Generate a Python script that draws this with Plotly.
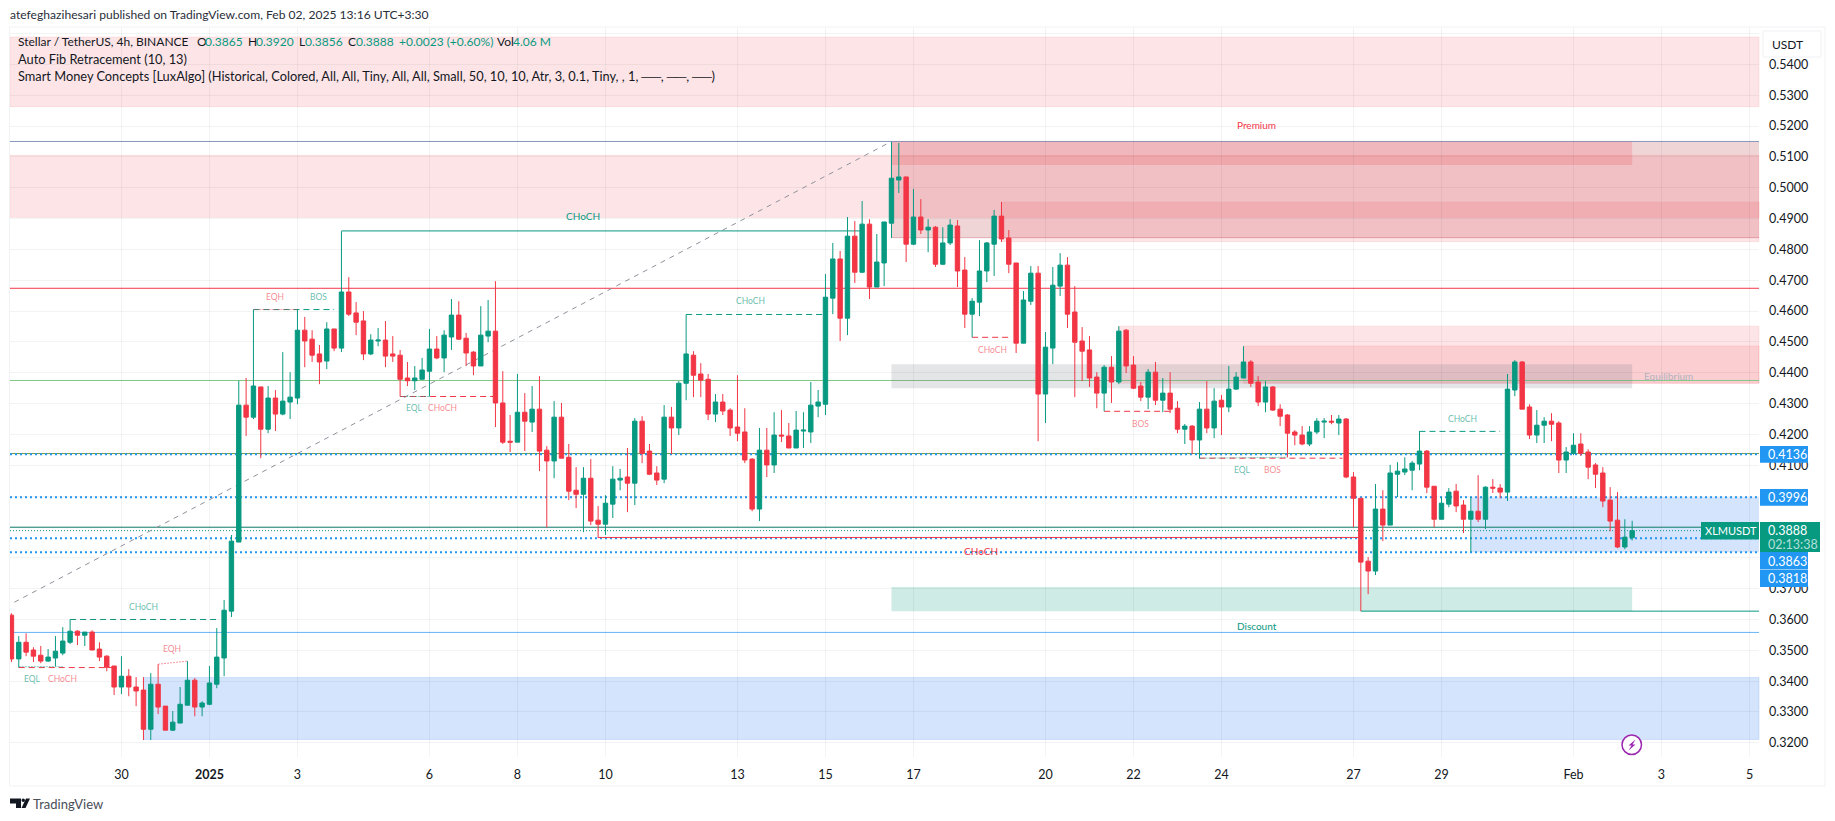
import pandas as pd
import plotly.graph_objects as go

# 4h candles, first bar is Dec 27 12:00
opens = [.3614,.3472,.3526,.3501,.3484,.3465,.3475,.3491,.3526,.3562,.3549,.3559,.3504,.3481,.3449,.3381,.3416,.3381,.3371,.3244,
         .3390,.3319,.3241,.3264,.3322,.3403,.3316,.3325,.3390,.3475,.3627,.3851,.4295,.4256,.4354,.4217,.4318,.4266,.4305,.4318,
         .4538,.4509,.4461,.4438,.4542,.4480,.4662,.4594,.4568,.4461,.4503,.4506,.4461,.4457,.4383,.4374,.4379,.4405,.4477,.4448,
         .4516,.4587,.4512,.4467,.4422,.4519,.4535,.4302,.4178,.4175,.4272,.4240,.4282,.4149,.4114,.4256,.4126,.4019,.4006,.4058,
         .3922,.3909,.3974,.4052,.4062,.4042,.4243,.4146,.4075,.4055,.4256,.4221,.4366,.4457,.4396,.4379,.4266,.4305,.4279,.4224,
         .4208,.4120,.3958,.4149,.4101,.4198,.4195,.4156,.4211,.4208,.4292,.4298,.4642,.4769,.4577,.4843,.4726,.4882,.4678,.4756,
         .4885,.5025,.5035,.4817,.4905,.4863,.4872,.4752,.4821,.4876,.4733,.4590,.4629,.4730,.4817,.4908,.4837,.4756,.4496,.4632,
         .4723,.4331,.4480,.4681,.4749,.4597,.4503,.4474,.4386,.4334,.4418,.4370,.4538,.4425,.4357,.4321,.4402,.4311,.4334,.4285,
         .4217,.4227,.4182,.4282,.4221,.4311,.4289,.4347,.4383,.4435,.4370,.4305,.4354,.4282,.4263,.4208,.4198,.4169,.4208,.4240,
         .4243,.4237,.4250,.4062,.3993,.3789,.3757,.3958,.3906,.4071,.4078,.4084,.4104,.4146,.4032,.3925,.3974,.4016,.3971,.3925,
         .3951,.3925,.4029,.4026,.4013,.4344,.4435,.4289,.4198,.4230,.4243,.4237,.4117,.4139,.4169,.4143,.4101,.4075,.3987,.3922,
         .3835,.3865]
highs = [.3620,.3546,.3555,.3510,.3514,.3504,.3546,.3575,.3600,.3565,.3559,.3565,.3526,.3484,.3449,.3481,.3439,.3413,.3413,.3426,
         .3455,.3319,.3303,.3381,.3465,.3410,.3335,.3449,.3572,.3663,.3874,.4374,.4383,.4605,.4354,.4357,.4344,.4467,.4402,.4605,
         .4581,.4538,.4490,.4564,.4542,.4859,.4710,.4629,.4600,.4525,.4545,.4568,.4519,.4474,.4435,.4422,.4448,.4542,.4519,.4538,
         .4639,.4632,.4529,.4470,.4616,.4636,.4697,.4405,.4263,.4396,.4334,.4357,.4389,.4162,.4308,.4302,.4169,.4094,.4094,.4120,
         .3968,.4003,.4097,.4088,.4156,.4253,.4259,.4169,.4097,.4295,.4289,.4373,.4589,.4470,.4431,.4396,.4331,.4331,.4285,.4392,
         .4285,.4123,.4221,.4221,.4272,.4279,.4237,.4276,.4272,.4370,.4344,.4720,.4821,.4795,.4905,.4892,.4957,.4898,.4850,.4889,
         .5149,.5145,.5035,.4996,.4963,.4898,.4876,.4872,.4898,.4895,.4775,.4642,.4830,.4824,.4928,.4954,.4863,.4756,.4665,.4746,
         .4746,.4532,.4743,.4788,.4775,.4681,.4548,.4519,.4402,.4425,.4454,.4551,.4542,.4454,.4370,.4412,.4435,.4383,.4402,.4308,
         .4234,.4230,.4305,.4373,.4350,.4328,.4422,.4402,.4486,.4441,.4389,.4373,.4357,.4298,.4266,.4214,.4227,.4227,.4253,.4253,
         .4263,.4263,.4253,.4078,.3993,.3802,.4039,.4019,.4101,.4110,.4126,.4114,.4211,.4149,.4032,.3997,.4026,.4039,.3987,.3997,
         .4068,.4032,.4055,.4039,.4396,.4441,.4438,.4298,.4279,.4256,.4269,.4243,.4159,.4204,.4204,.4152,.4107,.4094,.4029,.4013,
         .3925,.3920]
lows = [.3462,.3444,.3481,.3462,.3458,.3462,.3448,.3484,.3520,.3517,.3514,.3501,.3465,.3432,.3355,.3358,.3351,.3319,.3209,.3209,
        .3293,.3241,.3238,.3264,.3322,.3286,.3286,.3322,.3377,.3416,.3608,.3851,.4195,.4250,.4123,.4204,.4211,.4262,.4250,.4298,
        .4418,.4435,.4363,.4412,.4470,.4467,.4584,.4522,.4441,.4457,.4486,.4418,.4435,.4323,.4357,.4344,.4379,.4323,.4444,.4402,
        .4474,.4506,.4422,.4392,.4422,.4499,.4224,.4169,.4143,.4175,.4146,.4208,.4081,.3898,.4058,.4123,.3987,.3961,.3883,.3906,
        .3865,.3874,.3929,.4019,.3948,.3971,.4107,.4068,.4036,.4042,.4136,.4198,.4311,.4321,.4321,.4247,.4240,.4263,.4195,.4178,
        .4107,.3951,.3919,.4062,.4075,.4175,.4156,.4156,.4156,.4172,.4256,.4263,.4590,.4503,.4522,.4691,.4723,.4639,.4678,.4681,
        .4837,.4983,.4759,.4814,.4850,.4791,.4743,.4749,.4814,.4678,.4545,.4515,.4584,.4694,.4714,.4824,.4723,.4464,.4496,.4620,
        .4178,.4237,.4428,.4649,.4545,.4321,.4373,.4354,.4285,.4275,.4302,.4363,.4399,.4347,.4308,.4282,.4295,.4272,.4269,.4204,
        .4169,.4136,.4122,.4204,.4188,.4198,.4272,.4344,.4383,.4354,.4292,.4272,.4276,.4227,.4126,.4165,.4165,.4162,.4201,.4188,
        .4233,.4198,.4058,.3899,.3627,.3682,.3744,.3854,.3906,.3997,.4068,.4019,.4084,.4010,.3899,.3925,.3964,.3948,.3880,.3818,
        .3916,.3893,.4010,.3993,.3984,.4324,.4282,.4185,.4172,.4172,.4178,.4075,.4075,.4133,.4130,.4055,.4026,.3964,.3886,.3831,
        .3828,.3856]
closes = [.3472,.3526,.3494,.3481,.3465,.3478,.3497,.3530,.3562,.3549,.3559,.3501,.3478,.3445,.3381,.3416,.3381,.3368,.3244,.3390,
          .3316,.3241,.3267,.3325,.3403,.3316,.3329,.3394,.3478,.3630,.3854,.4295,.4256,.4357,.4217,.4318,.4266,.4308,.4321,.4538,
          .4503,.4457,.4435,.4542,.4480,.4662,.4590,.4564,.4461,.4506,.4506,.4454,.4454,.4379,.4374,.4383,.4409,.4477,.4448,.4522,
          .4587,.4509,.4464,.4422,.4522,.4535,.4302,.4175,.4175,.4272,.4243,.4282,.4146,.4114,.4256,.4123,.4016,.4006,.4058,.3919,
          .3909,.3977,.4055,.4058,.4042,.4243,.4139,.4071,.4052,.4256,.4221,.4366,.4461,.4392,.4376,.4266,.4305,.4276,.4221,.4204,
          .4117,.3958,.4149,.4101,.4198,.4195,.4156,.4214,.4214,.4295,.4305,.4645,.4769,.4577,.4843,.4726,.4882,.4678,.4759,.4889,
          .5031,.5035,.4817,.4905,.4863,.4872,.4752,.4821,.4879,.4730,.4590,.4632,.4730,.4821,.4908,.4834,.4752,.4496,.4636,.4723,
          .4331,.4483,.4684,.4749,.4590,.4499,.4470,.4383,.4334,.4418,.4370,.4535,.4422,.4350,.4321,.4402,.4311,.4334,.4282,.4217,
          .4227,.4182,.4282,.4221,.4308,.4289,.4347,.4386,.4435,.4366,.4305,.4354,.4279,.4259,.4204,.4198,.4169,.4208,.4243,.4243,
          .4240,.4250,.4062,.3993,.3786,.3757,.3958,.3906,.4075,.4081,.4088,.4107,.4146,.4029,.3925,.3977,.4013,.3968,.3925,.3951,
          .3925,.4029,.4026,.4013,.4347,.4435,.4282,.4198,.4230,.4243,.4233,.4117,.4143,.4165,.4139,.4094,.4071,.3984,.3919,.3835,
          .3867,.3888]

# horizontal levels
fib_top = .5150
fib_red = .4674
fib_green = .4375
fib_olive = .4138
fib_low = .3899
discount_line = .3558
last_close = .3888
blue_dotted = [.4136, .3996, .3863, .3818]

# zones: start bar, end bar (None = right edge), top, bottom
red_zones = [(None, None, .5489, .5263), (None, None, .5105, .4904),
             (135, None, .4953, .4825), (151, None, .4551, .4366), (168, None, .4487, .4366)]
premium_zone = (120, None, .5150, .4838)
premium_top = (120, 221, .5150, .5074)
equilibrium_zone = (120, 221, .4428, .4350)
discount_zone = (120, 221, .3705, .3627)
blue_zones = [(18, None, .3412, .3211), (199, None, .3996, .3818)]

# structure lines: start bar, end bar, price
green_dashes = [(8, 28, .3600), (33, 44, .4605), (92, 110.6, .4589), (192, 203, .4210)]
red_dashes = [(1, 13.7, .3444), (53, 65.7, .4323), (131, 136, .4515), (149, 158, .4275), (162, 181.5, .4123)]
green_solid = [(45, 116, .4860), (184, None, .3627)]
red_solid = [(80, 184, .3866)]
eql_lines = [(1, 7, .3447, .3447), (53, 57, .4323, .4323), (162, 174, .4123, .4126)]
eqh_lines = [(20, 24, .3455, .3465), (33, 39, .4605, .4605)]
fib_diagonal = (0.4, 120, .3656, .5150)

# text labels: text, bar, price
green_small = [("CHoCH", 18, .3640), ("EQL", 2.9, .3406), ("BOS", 41.9, .4645), ("EQL", 55, .4285), ("CHoCH", 100.8, .4632),
               ("EQL", 167.9, .4084), ("CHoCH", 197.8, .4250)]
red_small = [("CHoCH", 6.9, .3406), ("EQH", 21.9, .3504), ("EQH", 35.9, .4645), ("CHoCH", 58.8, .4285), ("CHoCH", 133.8, .4474),
             ("BOS", 153.9, .4234), ("BOS", 171.9, .4084)]

tick_dates = ["2024-12-30", "2025-01-01", "2025-01-03", "2025-01-06", "2025-01-08", "2025-01-10", "2025-01-13", "2025-01-15",
              "2025-01-17", "2025-01-20", "2025-01-22", "2025-01-24", "2025-01-27", "2025-01-29", "2025-02-01", "2025-02-03", "2025-02-05"]
tick_labels = ["30", "<b>2025</b>", "3", "6", "8", "10", "13", "15", "17", "20", "22", "24", "27", "29", "Feb", "3", "5"]
price_ticks = [.32, .33, .34, .35, .36, .37, .38, .39, .40, .41, .42, .43, .44, .45, .46, .47, .48, .49, .50, .51, .52, .53, .54, .55]
# these labels sit under the price badges and the currency box in the reference
hidden_ticks = [.38, .39, .40, .55]

GREEN = "#089981"
RED = "#f23645"
BLUE = "#2196f3"
INK = "#131722"
FONT = "Lato"
GRID = "rgba(42,46,57,.06)"

W, H = 1835, 821
L, R, T, B = 10, 1759, 28, 757
t0 = pd.Timestamp("2024-12-27 12:00")
x_lo = pd.Timestamp("2024-12-27 11:13")
x_hi = pd.Timestamp("2025-02-05 05:11")


def bar_time(i):
    return str(t0 + pd.Timedelta(hours=4 * i))


def xp(x):
    return (x - L) / (R - L)


def yp(y):
    return (B - y) / (B - T)


times = [t0 + pd.Timedelta(hours=4 * i) for i in range(len(opens))]

fig = go.Figure(go.Candlestick(
    x=times, open=opens, high=highs, low=lows, close=closes,
    increasing=dict(line=dict(color=GREEN, width=1), fillcolor=GREEN),
    decreasing=dict(line=dict(color=RED, width=1), fillcolor=RED),
    whiskerwidth=0, hoverinfo="skip",
))


def x_args(start, end):
    # None means the edge of the plot, so the shape goes in paper x
    if start is None or end is None:
        a = 0 if start is None else (t0 + pd.Timedelta(hours=4 * start) - x_lo) / (x_hi - x_lo)
        b = 1 if end is None else (t0 + pd.Timedelta(hours=4 * end) - x_lo) / (x_hi - x_lo)
        return dict(xref="paper", x0=a, x1=b)
    return dict(xref="x", x0=bar_time(start), x1=bar_time(end))


def zone(z, fill, edge=None):
    fig.add_shape(type="rect", yref="y", y0=z[3], y1=z[2], fillcolor=fill, layer="below",
                  line=dict(width=1 if edge else 0, color=edge or "rgba(0,0,0,0)"), **x_args(z[0], z[1]))


def seg(start, end, p0, p1, color, width=1, dash="solid"):
    fig.add_shape(type="line", yref="y", y0=p0, y1=p1, layer="below",
                  line=dict(color=color, width=width, dash=dash), **x_args(start, end))


zone(premium_zone, "rgba(180,45,55,.2)")
zone(premium_top, "rgba(242,54,69,.18)")
seg(120, None, premium_zone[3], premium_zone[3], "rgba(180,45,55,.3)")
for z in red_zones:
    zone(z, "rgba(242,54,69,.13)", "rgba(242,54,69,.1)")
zone(equilibrium_zone, "rgba(120,123,134,.2)")
zone(discount_zone, "rgba(8,153,129,.2)")
for z in blue_zones:
    zone(z, "rgba(33,110,243,.19)", "rgba(33,110,243,.15)" if z[0] == 18 else None)

seg(None, None, fib_top, fib_top, "#8a96bd")
seg(None, None, fib_red, fib_red, RED)
seg(None, None, fib_green, fib_green, "#81c784")
seg(None, None, fib_olive, fib_olive, "#6c9a45")
seg(None, None, fib_low, fib_low, "#14836f")
seg(None, None, discount_line, discount_line, "#64b5f6")
seg(None, None, last_close, last_close, GREEN, 1, "1px,2px")
for p in blue_dotted:
    seg(None, None, p, p, BLUE, 2, "2px,3px")
seg(fib_diagonal[0], fib_diagonal[1], fib_diagonal[2], fib_diagonal[3], "#8f929c", 1, "5px,5px")

for s, e, p in green_dashes:
    seg(s, e, p, p, GREEN, 1, "6px,4px")
for s, e, p in red_dashes:
    seg(s, e, p, p, RED, 1, "6px,4px")
for s, e, p in green_solid:
    seg(s, e, p, p, GREEN)
for s, e, p in red_solid:
    seg(s, e, p, p, RED)
for s, e, a, b in eql_lines:
    seg(s, e, a, b, "rgba(8,153,129,.5)", 1, "2px,1px")
for s, e, a, b in eqh_lines:
    seg(s, e, a, b, "rgba(242,54,69,.5)", 1, "2px,1px")


def label(text, i, p, color, size=8.5):
    fig.add_annotation(x=bar_time(i), y=p, xref="x", yref="y", text=text, showarrow=False,
                       font=dict(family=FONT, size=size, color=color))


for text, i, p in green_small:
    label(text, i, p, "rgba(8,153,129,.65)")
for text, i, p in red_small:
    label(text, i, p, "rgba(242,54,69,.6)")
label("CHoCH", 78, .4908, GREEN, 10)
label("CHoCH", 132.2, .3821, RED, 10)
label("Premium", 169.8, .5204, RED, 10)
label("Discount", 169.8, .3578, GREEN, 10)
label("Equilibrium", 225.9, .4389, "#b2b5be", 10)


def text_px(text, x, y, size=13, color=INK, anchor="left"):
    fig.add_annotation(x=xp(x), y=yp(y), xref="paper", yref="paper", text=text, showarrow=False, xanchor=anchor,
                       yanchor="middle", align="left", borderpad=0, xshift=-1, font=dict(family=FONT, size=size, color=color))


def box_px(x0, y0, x1, y1, fill, edge=None):
    fig.add_shape(type="rect", xref="paper", yref="paper", x0=xp(x0), x1=xp(x1), y0=yp(y0), y1=yp(y1),
                  fillcolor=fill, line=dict(width=1 if edge else 0, color=edge or fill), layer="above")


# outer frame
box_px(9.5, 27, 1825, 786, "rgba(0,0,0,0)", "#f1f2f4")

# header and legend
text_px("atefeghazihesari published on TradingView.com, Feb 02, 2025 13:16 UTC+3:30", 10, 14.5, 12.1, "#2a2e39")
text_px("Stellar / TetherUS, 4h, BINANCE", 18, 42, 12)
for txt, x in [("O", 197), ("H", 248), ("L", 299), ("C", 348), ("Vol", 497)]:
    text_px(txt, x, 42, 12)
for txt, x in [("0.3865", 205), ("0.3920", 256), ("0.3856", 305), ("0.3888", 356), ("+0.0023 (+0.60%)", 399), ("4.06 M", 513)]:
    text_px(txt, x, 42, 12, GREEN)
text_px("Auto Fib Retracement (10, 13)", 18, 59, 12.8)
text_px("Smart Money Concepts [LuxAlgo] (Historical, Colored, All, All, Tiny, All, All, Small, 50, 10, 10, Atr, 3, 0.1, Tiny, , 1, ──, ──, ──)", 18, 76, 12.8)

# price badges
box_px(1760, 522, 1820, 552, GREEN)
box_px(1701, 522, 1759, 539.5, GREEN)
box_px(1760, 446, 1808, 462.7, BLUE)
box_px(1760, 489, 1808, 505.7, BLUE)
box_px(1760, 552, 1808, 569.5, BLUE)
box_px(1760, 570, 1808, 587, BLUE)
for txt, y in [("0.4136", 454.5), ("0.3996", 497.5), ("0.3863", 561), ("0.3818", 578.5), ("0.3888", 530.5)]:
    text_px(txt, 1768, y, 12.5, "white")
text_px("02:13:38", 1768, 544.5, 12.5, "rgba(255,255,255,.7)")
text_px("XLMUSDT", 1705, 530.5, 11, "white")

# currency box
box_px(1763, 31, 1821, 57, "white", "#f0f1f4")
text_px("USDT", 1772, 44.5, 12)

# flash icon
fig.add_shape(type="circle", xref="paper", yref="paper", x0=xp(1622), x1=xp(1641.5), y0=yp(735), y1=yp(754.5),
              fillcolor="white", line=dict(color="#9c27b0", width=1.5), layer="above")
bolt = [(1635.5, 739.5), (1628.5, 745.5), (1631.5, 745.5), (1628.5, 750.5), (1635.5, 744.5), (1632.5, 744.5)]
fig.add_shape(type="path", xref="paper", yref="paper", fillcolor="#9c27b0", line=dict(width=0), layer="above",
              path="M" + " L".join(f"{xp(a)},{yp(b)}" for a, b in bolt) + " Z")

# TradingView logo
logo_t = [(10, 798.5), (21, 798.5), (21, 808), (16, 808), (16, 803.5), (10, 803.5)]
logo_s = [(26, 798.5), (30, 798.5), (25.5, 808), (21.5, 808)]
for pts in (logo_t, logo_s):
    fig.add_shape(type="path", xref="paper", yref="paper", fillcolor="#131722", line=dict(width=0), layer="above",
                  path="M" + " L".join(f"{xp(a)},{yp(b)}" for a, b in pts) + " Z")
fig.add_shape(type="circle", xref="paper", yref="paper", x0=xp(21.5), x1=xp(25), y0=yp(798.5), y1=yp(802),
              fillcolor="#131722", line=dict(width=0), layer="above")
text_px("TradingView", 33, 803.5, 13, "#4a4e59")

fig.update_layout(
    width=W, height=H, autosize=False, showlegend=False,
    margin=dict(l=L, r=W - R, t=T, b=H - B, pad=0),
    paper_bgcolor="white", plot_bgcolor="rgba(0,0,0,0)",
    boxgap=0.4, boxgroupgap=0,
    font=dict(family=FONT, size=12, color=INK),
    xaxis=dict(type="date", range=[x_lo, x_hi], rangeslider=dict(visible=False), tickvals=tick_dates, ticktext=tick_labels,
               tickangle=0, showgrid=True, gridcolor=GRID, gridwidth=1, showline=False, zeroline=False, ticks="",
               tickfont=dict(family=FONT, size=12.5, color=INK), ticklabelstandoff=8),
    yaxis=dict(side="right", range=[.3154, .5518], tickvals=price_ticks,
               ticktext=["" if p in hidden_ticks else f"{p:.4f}" for p in price_ticks],
               showgrid=True, gridcolor=GRID, gridwidth=1, showline=False, zeroline=False, ticks="",
               tickfont=dict(family=FONT, size=12.5, color=INK), ticklabelstandoff=9),
)

fig.write_html("out.html", config=dict(displayModeBar=False, responsive=False),
               post_script="document.body.style.margin='0';")
